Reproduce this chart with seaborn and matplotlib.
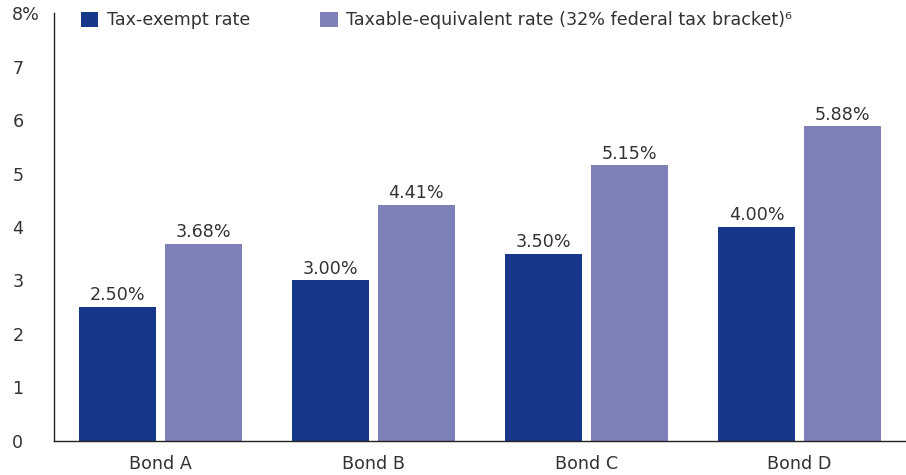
import matplotlib
matplotlib.use("Agg")
import matplotlib.pyplot as plt
import pandas as pd
import seaborn as sns

# ─── data ───────────────────────────────────────────────
bonds = ["Bond A", "Bond B", "Bond C", "Bond D"]
tax_exempt = [2.50, 3.00, 3.50, 4.00]
taxable_equiv = [3.68, 4.41, 5.15, 5.88]
series_names = ["Tax-exempt rate", "Taxable-equivalent rate (32% federal tax bracket)\u2076"]
y_ticks = [0, 1, 2, 3, 4, 5, 6, 7, 8]
y_ticklabels = ["0", "1", "2", "3", "4", "5", "6", "7", "8%"]

colors = ["#17388A", "#7E81B8"]
text_color = "#333333"
fs = 12.6

df = pd.DataFrame({
    "bond": bonds * 2,
    "rate": tax_exempt + taxable_equiv,
    "series": [series_names[0]] * 4 + [series_names[1]] * 4,
})

sns.set_style("white")
plt.rcParams["font.family"] = ["DejaVu Sans"]

fig = plt.figure(figsize=(9.06, 4.75), dpi=100)
ax = fig.add_axes([0.0596, 0.0716, 0.9404, 0.901])

sns.barplot(data=df, x="bond", y="rate", hue="series", palette=colors,
            width=0.8, gap=0.094, saturation=1, linewidth=0, ax=ax)

# value labels
for cont in ax.containers:
    ax.bar_label(cont, labels=[f"{v:.2f}%" for v in cont.datavalues],
                 padding=2, fontsize=fs, color=text_color)

ax.set_xlim(-0.5, 3.5)
ax.set_ylim(0, 8)
ax.set_yticks(y_ticks)
ax.set_yticklabels(y_ticklabels)
ax.set_xlabel("")
ax.set_ylabel("")

for lab in ax.get_yticklabels():
    lab.set_horizontalalignment("left")
ax.tick_params(axis="y", length=0, pad=30, labelsize=fs, labelcolor=text_color)
ax.tick_params(axis="x", length=0, pad=10, labelsize=fs, labelcolor=text_color)

sns.despine(ax=ax, top=True, right=True)
for side in ["left", "bottom"]:
    ax.spines[side].set_color("#222222")
    ax.spines[side].set_linewidth(1)

ax.legend(loc="upper left", bbox_to_anchor=(0.023, 1.02), ncol=2, frameon=False,
          handlelength=1.0, handleheight=1.0, handletextpad=0.5, columnspacing=4.0,
          fontsize=fs, labelcolor=text_color, borderaxespad=0)

fig.savefig("out.png", dpi=100)
